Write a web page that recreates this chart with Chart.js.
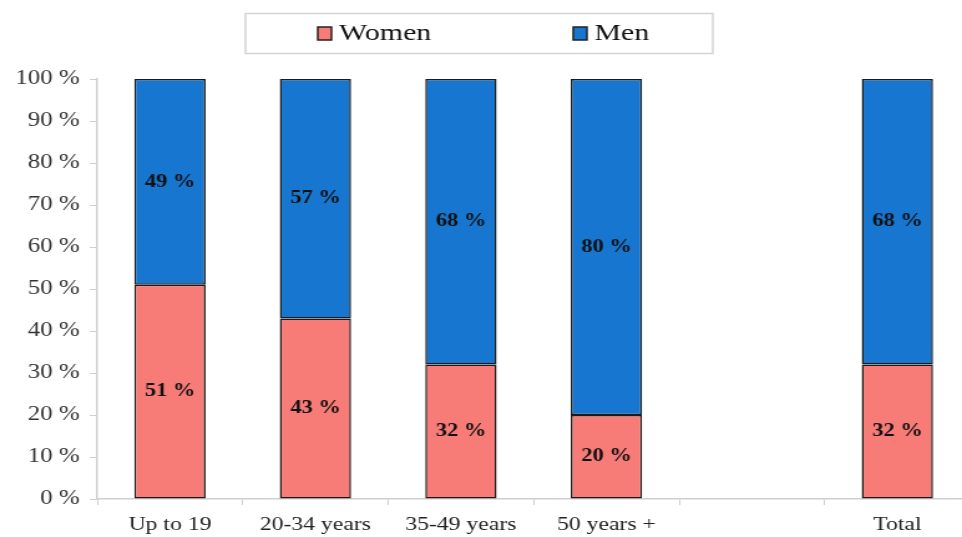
<!DOCTYPE html>
<html>
<head>
<meta charset="utf-8">
<script src="https://cdn.jsdelivr.net/npm/chart.js@4/dist/chart.umd.min.js"></script>
<style>
  html, body { margin: 0; padding: 0; background: #fff; overflow: hidden; }
  /* the original picture is stretched sideways, so the canvas is too */
  #chart { display: block; }
</style>
</head>
<body>
<canvas id="chart" width="780" height="537" style="width:972px;height:537px"></canvas>
<script>
    // data
    const categories = ['Up to 19', '20-34 years', '35-49 years', '50 years +', '', 'Total'];
    const women = [51, 43, 32, 20, null, 32];
    const men = [49, 57, 68, 80, null, 68];
    const yTicks = [0, 10, 20, 30, 40, 50, 60, 70, 80, 90, 100];

    const serif = "'Liberation Serif', 'DejaVu Serif', serif";

    // labels in the middle of each segment
    const segmentLabels = {
        id: 'segmentLabels',
        afterDatasetsDraw(chart) {
            const ctx = chart.ctx;
            ctx.save();
            ctx.font = 'bold 18px ' + serif;
            ctx.fillStyle = '#111';
            ctx.textAlign = 'center';
            ctx.textBaseline = 'middle';
            chart.data.datasets.forEach((ds, i) => {
                chart.getDatasetMeta(i).data.forEach((bar, j) => {
                    if (ds.data[j] == null) return;
                    const y = (bar.y + bar.base) / 2;
                    ctx.fillText(ds.data[j] + ' %', bar.x, y);
                });
            });
            ctx.restore();
        }
    };

    // boxed legend at the top
    const boxLegend = {
        id: 'boxLegend',
        afterDraw(chart) {
            const ctx = chart.ctx;
            ctx.save();
            ctx.strokeStyle = '#d4d4d4';
            ctx.lineWidth = 1.5;
            ctx.strokeRect(197, 13.5, 375, 40);
            ctx.font = '24px ' + serif;
            ctx.textBaseline = 'middle';
            const spots = [255, 460];
            chart.data.datasets.forEach((ds, i) => {
                const x = spots[i];
                ctx.fillStyle = ds.backgroundColor;
                ctx.fillRect(x, 27, 11, 13);
                ctx.strokeStyle = '#222';
                ctx.lineWidth = 1.5;
                ctx.strokeRect(x, 27, 11, 13);
                ctx.fillStyle = '#111';
                ctx.fillText(ds.label, x + 17, 34);
            });
            ctx.restore();
        }
    };

    new Chart(document.getElementById('chart'), {
        type: 'bar',
        data: {
            labels: categories,
            datasets: [{
                label: 'Women',
                data: women,
                backgroundColor: '#f77c77',
                borderColor: '#1a1a1a',
                borderWidth: 1.5,
                borderSkipped: false
            }, {
                label: 'Men',
                data: men,
                backgroundColor: '#1776d0',
                borderColor: '#1a1a1a',
                borderWidth: 1.5,
                borderSkipped: false
            }]
        },
        options: {
            responsive: false,
            animation: false,
            layout: { padding: { top: 79, right: 1.5, left: 0, bottom: 0 } },
            datasets: { bar: { barPercentage: 0.49, categoryPercentage: 1 } },
            plugins: {
                legend: { display: false },
                tooltip: { enabled: false }
            },
            scales: {
                x: {
                    stacked: true,
                    afterFit(scale) { scale.height = 38; },
                    grid: { drawOnChartArea: false, color: '#cfcfcf', tickLength: 6, offset: true },
                    border: { color: '#cfcfcf', width: 1.5 },
                    ticks: { color: '#222', font: { family: serif, size: 19 }, padding: 9, maxRotation: 0 }
                },
                y: {
                    stacked: true,
                    min: 0,
                    max: 100,
                    afterFit(scale) { scale.width = 78; },
                    afterBuildTicks(scale) { scale.ticks = yTicks.map(v => ({ value: v })); },
                    grid: { drawOnChartArea: false, color: '#cfcfcf', tickLength: 6 },
                    border: { color: '#cfcfcf', width: 1.5 },
                    ticks: {
                        color: '#333',
                        font: { family: serif, size: 20 },
                        padding: 8,
                        callback: v => v + ' %'
                    }
                }
            }
        },
        plugins: [segmentLabels, boxLegend]
    });
</script>
</body>
</html>
